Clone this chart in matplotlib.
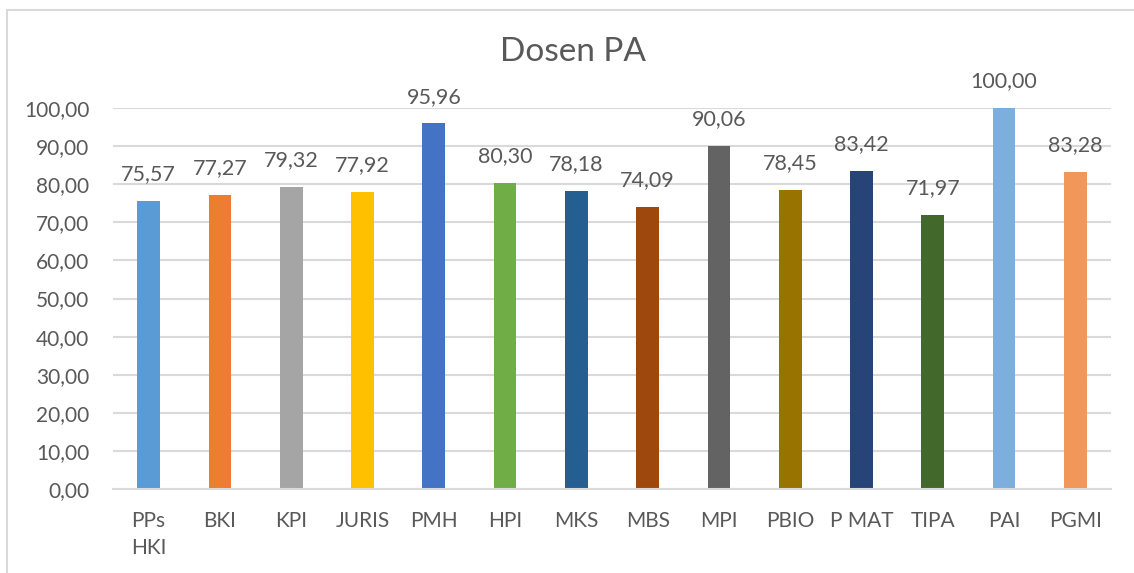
import matplotlib
matplotlib.use("Agg")
import matplotlib.pyplot as plt
from matplotlib.patches import Rectangle

categories = ["PPs\nHKI", "BKI", "KPI", "JURIS", "PMH", "HPI", "MKS", "MBS",
              "MPI", "PBIO", "P MAT", "TIPA", "PAI", "PGMI"]
values = [75.57, 77.27, 79.32, 77.92, 95.96, 80.30, 78.18, 74.09,
          90.06, 78.45, 83.42, 71.97, 100.00, 83.28]
colors = ["#5B9BD5", "#ED7D31", "#A5A5A5", "#FFC000", "#4472C4", "#70AD47",
          "#255E91", "#9E480E", "#636363", "#997300", "#264478", "#43682B",
          "#7CAFDD", "#F1975A"]
yticks = [0, 10, 20, 30, 40, 50, 60, 70, 80, 90, 100]
title = "Dosen PA"

plt.rcParams['font.family'] = ['Lato', 'DejaVu Sans']
txt = "#595959"

fig = plt.figure(figsize=(11.34, 5.73), dpi=100)
W, H = 1134, 573
fig.patches.append(Rectangle((7 / W, -0.1), 1.2, 1 - 10 / H + 0.1,
                             transform=fig.transFigure, fill=False,
                             edgecolor="#D9D9D9", linewidth=1.5))

ax = fig.add_axes([113 / W, 1 - 489 / H, 998 / W, 381 / H])
x = list(range(len(categories)))
ax.bar(x, values, width=0.32, color=colors, zorder=3)
ax.set_xlim(-0.5, len(categories) - 0.5)
ax.set_ylim(0, 100)
ax.set_yticks(yticks)
ax.set_yticklabels([f"{v:.2f}".replace(".", ",") for v in yticks],
                   fontsize=15, color=txt)
ax.set_xticks(x)
ax.set_xticklabels(categories, fontsize=15, color=txt, linespacing=1.45,
                   va="top")
ax.tick_params(axis="both", length=0)
ax.tick_params(axis="x", pad=16)
ax.tick_params(axis="y", pad=17)
ax.grid(axis="y", color="#D9D9D9", linewidth=1.5, zorder=0)
for s in ["top", "right", "left"]:
    ax.spines[s].set_visible(False)
ax.spines["bottom"].set_color("#D9D9D9")
ax.spines["bottom"].set_linewidth(1.5)
ax.spines["bottom"].set_zorder(4)

for xi, v in zip(x, values):
    ax.annotate(f"{v:.2f}".replace(".", ","), (xi, v), xytext=(0, 12),
                textcoords="offset points", ha="center", va="bottom",
                fontsize=15.5, color=txt, clip_on=False)

fig.text(573 / W, 1 - 52 / H, title, ha="center", va="center",
         fontsize=24, color=txt)

fig.savefig("out.png", dpi=100)
